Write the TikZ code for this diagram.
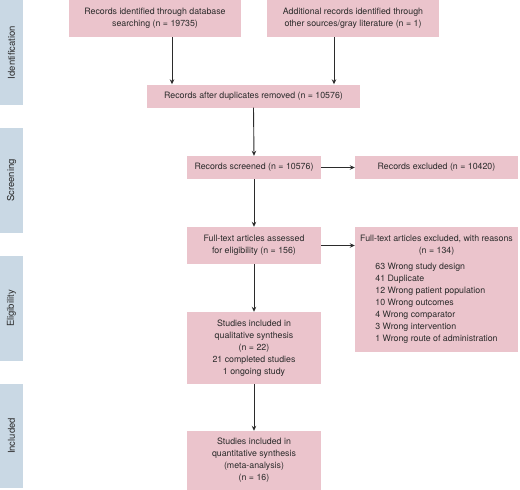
\documentclass[tikz,border=0pt]{standalone}
\usepackage{fontspec}
\setmainfont{TeX Gyre Heros}
\usetikzlibrary{arrows.meta,calc}
\definecolor{boxpink}{HTML}{EBC4CC}
\definecolor{sideblue}{HTML}{C9D8E4}
\definecolor{txt}{HTML}{2B2B2B}
\begin{document}
\begin{tikzpicture}[x=1pt,y=-1pt,
  box/.style={fill=boxpink,draw=none,inner sep=2pt,align=center,text=txt,
    font=\fontsize{8.8}{12}\selectfont},
  side/.style={fill=sideblue,draw=none,minimum width=23pt,inner sep=0pt,
    text=txt,font=\fontsize{9.5}{12}\selectfont},
  arr/.style={draw=txt,line width=0.9pt,-{Stealth[length=5pt,width=4.5pt]}}]
\useasboundingbox (0,0) rectangle (520,490);
% side panels
\node[side,minimum height=105pt] (sid) at (11.5,52.5) {\rotatebox{90}{Identification}};
\node[side,minimum height=105pt] (sscr) at (11.5,180.5) {\rotatebox{90}{Screening}};
\node[side,minimum height=105pt] (selg) at (11.5,308.5) {\rotatebox{90}{Eligibility}};
\node[side,minimum height=104pt] (sinc) at (11.5,436) {\rotatebox{90}{Included}};
% boxes
\node[box,minimum width=172pt,minimum height=37pt] (b1) at (155,18.5)
  {Records identified through database\\searching (n = 19735)};
\node[box,minimum width=172pt,minimum height=37pt] (b2) at (353,18.5)
  {Additional records identified through\\other sources/gray literature (n = 1)};
\node[box,minimum width=213pt,minimum height=23pt] (b3) at (253.5,96)
  {Records after duplicates removed (n = 10576)};
\node[box,minimum width=134pt,minimum height=23pt] (b4) at (254,167.5)
  {Records screened (n = 10576)};
\node[box,minimum width=163pt,minimum height=23pt] (b5) at (436.5,167.5)
  {Records excluded (n = 10420)};
\node[box,minimum width=134pt,minimum height=37pt] (b6) at (254,245.5)
  {Full-text articles assessed\\for eligibility (n = 156)};
\node[box,minimum width=163pt,minimum height=125pt] (b7) at (436.5,289.5)
  {\begin{tabular}{@{}c@{}}Full-text articles excluded, with reasons\\(n = 134)\\[4pt]
   \begin{tabular}{@{}l@{}}63 Wrong study design\\41 Duplicate\\12 Wrong patient population\\
   10 Wrong outcomes\\4 Wrong comparator\\3 Wrong intervention\\1 Wrong route of administration\end{tabular}
   \end{tabular}};
\node[box,minimum width=134pt,minimum height=72pt] (b8) at (254,348)
  {Studies included in\\qualitative synthesis\\(n = 22)\\21 completed studies\\1 ongoing study};
\node[box,minimum width=134pt,minimum height=59pt] (b9) at (254,460.5)
  {Studies included in\\quantitative synthesis\\(meta-analysis)\\(n = 16)};
% arrows
\coordinate (c1) at (172,0);
\coordinate (c2) at (334,0);
\draw[arr] (c1 |- b1.south) -- (c1 |- b3.north);
\draw[arr] (c2 |- b2.south) -- (c2 |- b3.north);
\draw[arr] (b3.south) -- (b4.north);
\draw[arr] (b4.east) -- (b5.west);
\draw[arr] (b4.south) -- (b6.north);
\draw[arr] (b6.east) -- (b6.east -| b7.west);
\draw[arr] (b6.south) -- (b8.north);
\draw[arr] (b8.south) -- (b9.north);
\end{tikzpicture}
\end{document}
